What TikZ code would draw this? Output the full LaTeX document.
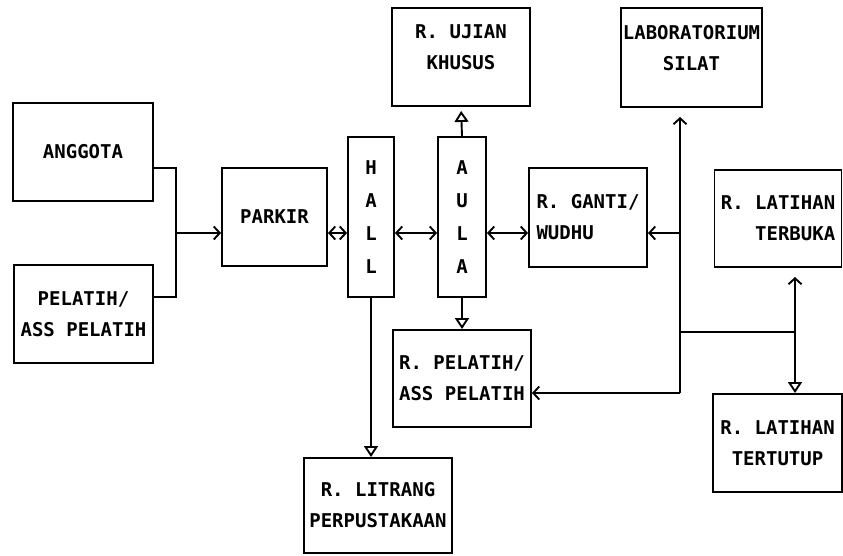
\documentclass[tikz,border=0pt]{standalone}
\usepackage{fontspec}
\newfontfamily\dotfont{DejaVu Sans Mono}
\usetikzlibrary{arrows.meta,calc}
\tikzset{
  ruangbox/.style={draw,line width=1.9pt,inner sep=1pt,align=center,
    font=\dotfont\bfseries\fontsize{19}{31}\selectfont},
  garis/.style={line width=1.9pt},
  panah/.style={garis,-{Straight Barb[length=6pt,width=13pt]}},
  panahdua/.style={garis,{Straight Barb[length=6pt,width=13pt]}-{Straight Barb[length=6pt,width=13pt]}},
  segitiga/.style={garis,-{Triangle[open,length=11pt,width=14pt,line width=1.9pt]}},
}
\newcommand{\ruang}[7]{%
  \node[ruangbox,minimum width=#4pt,minimum height=#5pt,#6] (#1) at (#2,#3) {#7};}

\begin{document}
\begin{tikzpicture}[x=1pt,y=-1pt]
  \useasboundingbox (0,0) rectangle (843,555);
  % ruangan
  \ruang{anggota}{83}{152}{140}{98}{}{ANGGOTA}
  \ruang{pelatiha}{83.5}{314}{139}{98}{}{PELATIH/\\ASS PELATIH}
  \ruang{parkir}{274.5}{217}{105}{98}{}{PARKIR}
  \ruang{hall}{371}{217}{46}{160}{font=\dotfont\bfseries\fontsize{19}{33}\selectfont}{H\\A\\L\\L}
  \ruang{aula}{462}{217}{48}{160}{font=\dotfont\bfseries\fontsize{19}{33}\selectfont}{A\\U\\L\\A}
  \ruang{ganti}{588}{217.5}{118}{99}{align=left}{R. GANTI/\\WUDHU\phantom{III}}
  \ruang{ujian}{461}{57}{138}{98}{}{R. UJIAN\\KHUSUS\\[-12pt]\mbox{}}
  \ruang{lab}{691.5}{57.5}{141}{99}{}{LABORATORIUM\\SILAT\\[-12pt]\mbox{}}
  \ruang{terbuka}{778}{218.5}{127}{97}{align=right}{R. LATIHAN\\TERBUKA}
  \ruang{tertutup}{777.5}{443}{129}{98}{}{R. LATIHAN\\TERTUTUP}
  \ruang{pelatihb}{462}{378.5}{138}{97}{}{R. PELATIH/\\ASS PELATIH}
  \ruang{litrang}{378}{505.5}{148}{95}{}{R. LITRANG\\PERPUSTAKAAN}
  % titik simpul
  \coordinate (jagt) at (176,233);
  \coordinate (kan) at (680,393);
  \coordinate (jlat) at (795,332);
  % penghubung
  \draw[garis] ([yshift=-16pt]anggota.east) -| (jagt);
  \draw[garis] ([yshift=17pt]pelatiha.east) -| (jagt);
  \draw[panah] (jagt) -- (jagt -| parkir.west);
  \draw[panahdua] (jagt -| parkir.east) -- (jagt -| hall.west);
  \draw[panahdua] (jagt -| hall.east) -- (jagt -| aula.west);
  \draw[panahdua] (jagt -| aula.east) -- (jagt -| ganti.west);
  \draw[segitiga,shorten >=4pt] (aula.north) -- (ujian.south);
  \draw[segitiga] (aula.south) -- (pelatihb.north);
  \draw[segitiga] (hall.south) -- (hall.south |- litrang.north);
  \draw[panah,shorten >=9pt] (kan) -- (kan |- lab.south);
  \draw[panah] (kan |- jagt) -- (jagt -| ganti.east);
  \draw[panah] (kan) -- (kan -| pelatihb.east);
  \draw[garis] (kan |- jlat) -- (jlat);
  \draw[panah,shorten >=9pt] (jlat) -- (jlat |- terbuka.south);
  \draw[segitiga] (jlat) -- (jlat |- tertutup.north);
\end{tikzpicture}
\end{document}
